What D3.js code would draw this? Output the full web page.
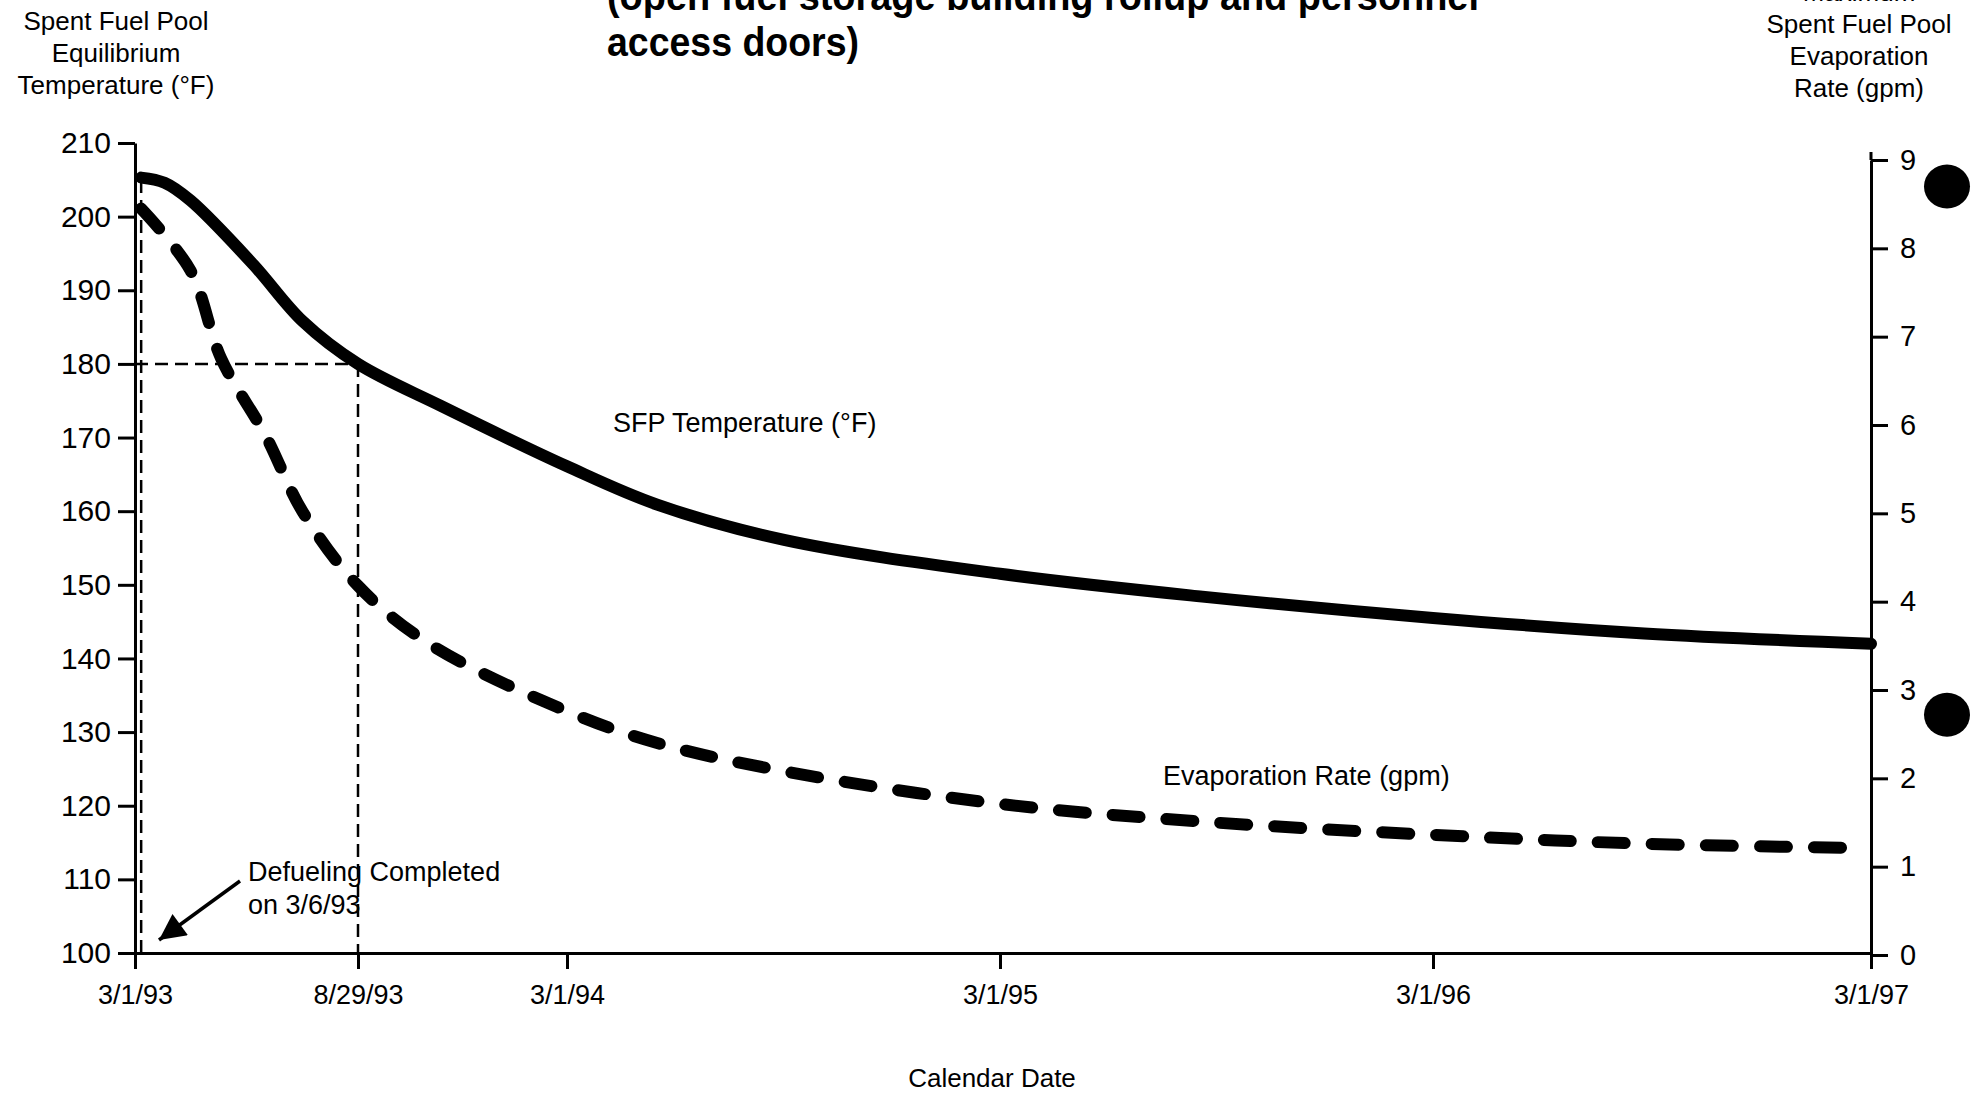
<!DOCTYPE html>
<html>
<head>
<meta charset="utf-8">
<script src="https://cdn.jsdelivr.net/npm/d3@7"></script>
<style>
  body { margin: 0; background: #fff; }
  svg { display: block; font-family: "Liberation Sans", Arial, Helvetica, sans-serif; }
</style>
</head>
<body>
<svg id="chart" width="1982" height="1093"></svg>
<script>
// temperature curve (left axis, °F)
var tempDates = ["1993-03-06", "1993-03-25", "1993-04-15", "1993-06-05", "1993-07-15", "1993-08-29",
                 "1993-11-10", "1994-03-01", "1994-05-16", "1994-08-31", "1995-03-01", "1995-08-19",
                 "1996-03-01", "1996-08-24", "1997-03-01"]
var tempValues = [205.3, 204.6, 202.2, 193.5, 185.8, 180.0,
                  174.3, 166.1, 160.9, 156.1, 151.5, 148.4,
                  145.5, 143.4, 142.0]

// evaporation curve (right axis, gpm)
var evapDates = ["1993-03-06", "1993-04-15", "1993-05-10", "1993-06-15", "1993-07-15", "1993-08-29",
                 "1993-10-31", "1994-03-01", "1994-05-16", "1994-08-31", "1995-03-01", "1995-08-19",
                 "1996-03-01", "1996-08-24", "1997-02-22"]
var evapValues = [8.45, 7.75, 6.75, 5.88, 5.02, 4.18,
                  3.52, 2.76, 2.40, 2.08, 1.71, 1.51,
                  1.36, 1.26, 1.21]

var xTickDates = ["1993-03-01", "1993-08-29", "1994-03-01", "1995-03-01", "1996-03-01", "1997-03-01"]
var xTickLabels = ["3/1/93", "8/29/93", "3/1/94", "3/1/95", "3/1/96", "3/1/97"]
var leftTicks = [100, 110, 120, 130, 140, 150, 160, 170, 180, 190, 200, 210]
var rightTicks = [0, 1, 2, 3, 4, 5, 6, 7, 8, 9]

var titleLines = ["(open fuel storage building rollup and personnel", "access doors)"]
var leftTitle = ["Spent Fuel Pool", "Equilibrium", "Temperature (\u00B0F)"]
var rightTitle = ["Maximum", "Spent Fuel Pool", "Evaporation", "Rate (gpm)"]

// reference marks
var defuelDate = "1993-03-06"
var markDate = "1993-08-29"
var markTemp = 180

var parse = d3.timeParse("%Y-%m-%d")

var svg = d3.select("#chart")

// the tick dates are not evenly spaced on the original, so map each one
var x = d3.scaleTime()
    .domain(xTickDates.map(parse))
    .range([135, 358, 567, 1000, 1433, 1871])
var yL = d3.scaleLinear().domain([100, 210]).range([953, 143])
var yR = d3.scaleLinear().domain([0, 9]).range([955, 160])
var xLeft = 135, xRight = 1871

// thin dashed guide lines
var guide = svg.append("g")
    .attr("stroke", "#000")
    .attr("stroke-width", 2.5)
    .attr("stroke-dasharray", "13,7")
    .attr("fill", "none")
guide.append("line")
    .attr("x1", x(parse(defuelDate))).attr("x2", x(parse(defuelDate)))
    .attr("y1", yL(100)).attr("y2", yL(tempValues[0]))
guide.append("line")
    .attr("x1", xLeft).attr("x2", x(parse(markDate)))
    .attr("y1", yL(markTemp)).attr("y2", yL(markTemp))
guide.append("line")
    .attr("x1", x(parse(markDate))).attr("x2", x(parse(markDate)))
    .attr("y1", yL(markTemp)).attr("y2", yL(100))

// curves
var tempLine = d3.line()
    .x(function(d, i) { return x(parse(tempDates[i])) })
    .y(function(d) { return yL(d) })
    .curve(d3.curveCatmullRom.alpha(0.5))
var evapLine = d3.line()
    .x(function(d, i) { return x(parse(evapDates[i])) })
    .y(function(d) { return yR(d) })
    .curve(d3.curveCatmullRom.alpha(0.5))

svg.append("path")
    .attr("d", tempLine(tempValues))
    .attr("fill", "none")
    .attr("stroke", "#000")
    .attr("stroke-width", 12)
    .attr("stroke-linecap", "round")

svg.append("path")
    .attr("d", evapLine(evapValues))
    .attr("fill", "none")
    .attr("stroke", "#000")
    .attr("stroke-width", 12)
    .attr("stroke-linecap", "round")
    .attr("stroke-dasharray", "27,27")

// axes
function styleAxis(g, size) {
    g.attr("font-family", null).attr("font-size", null)
    g.selectAll("text").style("font-size", size + "px").attr("fill", "#000")
    g.selectAll("line").attr("stroke", "#000").attr("stroke-width", 3)
    g.select(".domain").attr("stroke", "#000").attr("stroke-width", 3)
}

var xAxis = svg.append("g")
    .attr("transform", "translate(0," + yL(100) + ")")
    .call(d3.axisBottom(x)
        .tickValues(xTickDates.map(parse))
        .tickFormat(function(d, i) { return xTickLabels[i] })
        .tickSize(16).tickSizeOuter(0).tickPadding(16))
styleAxis(xAxis, 27)

var leftAxis = svg.append("g")
    .attr("transform", "translate(" + xLeft + ",0)")
    .call(d3.axisLeft(yL).tickValues(leftTicks).tickSize(17).tickSizeOuter(0).tickPadding(7))
styleAxis(leftAxis, 30)

var rightAxis = svg.append("g")
    .attr("transform", "translate(" + xRight + ",0)")
    .call(d3.axisRight(yR).tickValues(rightTicks).tickSize(17).tickSizeOuter(0).tickPadding(12))
styleAxis(rightAxis, 29)
// axis line runs a little past the top tick on the original
rightAxis.append("line")
    .attr("x1", 0).attr("x2", 0)
    .attr("y1", yR(9) - 8).attr("y2", yR(9))
    .attr("stroke", "#000").attr("stroke-width", 3)

// titles
var title = svg.append("g").attr("font-weight", "bold").attr("font-size", 40)
title.append("text").attr("x", 607).attr("y", 10)
    .attr("textLength", 872).attr("lengthAdjust", "spacingAndGlyphs").text(titleLines[0])
title.append("text").attr("x", 607).attr("y", 56)
    .attr("textLength", 252).attr("lengthAdjust", "spacingAndGlyphs").text(titleLines[1])

svg.append("g").attr("font-size", 26).attr("text-anchor", "middle")
    .selectAll("text").data(leftTitle).enter().append("text")
    .attr("x", 116).attr("y", function(d, i) { return 30 + i * 32 })
    .text(function(d) { return d })

svg.append("g").attr("font-size", 26).attr("text-anchor", "middle")
    .selectAll("text").data(rightTitle).enter().append("text")
    .attr("x", 1859).attr("y", function(d, i) { return 1 + i * 32 })
    .text(function(d) { return d })

// series labels
svg.append("text").attr("x", 613).attr("y", 432).attr("font-size", 27).text("SFP Temperature (\u00B0F)")
svg.append("text").attr("x", 1163).attr("y", 785).attr("font-size", 27).text("Evaporation Rate (gpm)")
svg.append("text").attr("x", 992).attr("y", 1087).attr("font-size", 26)
    .attr("text-anchor", "middle").text("Calendar Date")

// defueling annotation
var note = svg.append("g").attr("font-size", 27)
note.append("text").attr("x", 248).attr("y", 881).text("Defueling Completed")
note.append("text").attr("x", 248).attr("y", 914).text("on 3/6/93")

svg.append("defs").append("marker")
    .attr("id", "arrow")
    .attr("viewBox", "0 0 10 10")
    .attr("refX", 10).attr("refY", 5)
    .attr("markerWidth", 11).attr("markerHeight", 7.5)
    .attr("markerUnits", "strokeWidth")
    .attr("orient", "auto")
  .append("path")
    .attr("d", "M0,0L10,5L0,10z")
    .attr("fill", "#000")
svg.append("line")
    .attr("x1", 240).attr("y1", 881)
    .attr("x2", 159).attr("y2", 940)
    .attr("stroke", "#000").attr("stroke-width", 3.5)
    .attr("marker-end", "url(#arrow)")

// binder holes from the scanned page
var holeValues = [8.7, 2.72]
svg.append("g").selectAll("ellipse").data(holeValues).enter().append("ellipse")
    .attr("cx", 1947).attr("cy", function(d) { return yR(d) })
    .attr("rx", 23).attr("ry", 22)
    .attr("fill", "#000")
</script>
</body>
</html>
